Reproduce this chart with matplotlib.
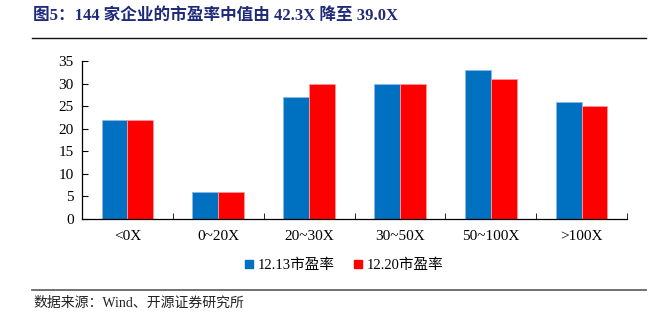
import numpy as np
import matplotlib
matplotlib.use("Agg")
import matplotlib.pyplot as plt
from matplotlib.lines import Line2D

plt.rcParams['font.family'] = ['Liberation Serif', 'Noto Sans CJK SC']

# Data
categories = ["<0X", "0~20X", "20~30X", "30~50X", "50~100X", ">100X"]
pe_1213 = [22, 6, 27, 30, 33, 26]
pe_1220 = [22, 6, 30, 30, 31, 25]
series_names = ["12.13市盈率", "12.20市盈率"]
title = "图5：144 家企业的市盈率中值由 42.3X 降至 39.0X"
source = "数据来源：Wind、开源证券研究所"

fig = plt.figure(figsize=(6.58, 3.29), dpi=100)
W, H = 658, 329
ax = fig.add_axes([82 / W, 1 - 219 / H, (627 - 82) / W, (219 - 61) / H])

x = np.arange(len(categories))
bw = 0.285
ax.bar(x - bw / 2, pe_1213, bw, color="#0070C0", edgecolor="#8DB8E8", linewidth=0.6)
ax.bar(x + bw / 2, pe_1220, bw, color="#FF0000", edgecolor="#FF9A9A", linewidth=0.6)

ax.set_xlim(-0.5, len(categories) - 0.5)
ax.set_ylim(0, 35)
ax.set_yticks(range(0, 36, 5))
ax.tick_params(axis="y", direction="in", length=4, labelsize=11, pad=6)
ax.set_xticks(x)
ax.set_xticklabels(categories, fontsize=11)
ax.tick_params(axis="x", length=0, pad=8)
ax.set_xticks(np.arange(0.5, len(categories) - 0.4, 1), minor=True)
ax.tick_params(axis="x", which="minor", direction="in", length=4)
for s in ["top", "right"]:
    ax.spines[s].set_visible(False)
for s in ["left", "bottom"]:
    ax.spines[s].set_linewidth(0.9)

# Legend
handles = [Line2D([], [], marker="s", linestyle="", color=c, markersize=6)
           for c in ["#0070C0", "#FF0000"]]
fig.legend(handles, series_names, loc="center", bbox_to_anchor=(342 / W, 1 - 265 / H),
           ncol=2, frameon=False, handletextpad=0.0, columnspacing=1.0,
           handlelength=1.2,
           prop={'family': ['Liberation Serif', 'Noto Sans CJK SC'], 'size': 10.5})

# Title and source
fig.text(33 / W, 1 - 16 / H, title, fontsize=12, fontweight="bold", color="#1F2A78",
         va="center", ha="left")
fig.add_artist(Line2D([32 / W, 646 / W], [1 - 38 / H, 1 - 38 / H], color="#111111", lw=1.0))
fig.add_artist(Line2D([32 / W, 646 / W], [1 - 290 / H, 1 - 290 / H], color="#666666", lw=1.3))
fig.text(33 / W, 1 - 303 / H, source, fontsize=10, va="center", ha="left", color="#222222")

fig.savefig("out.png", dpi=100)
